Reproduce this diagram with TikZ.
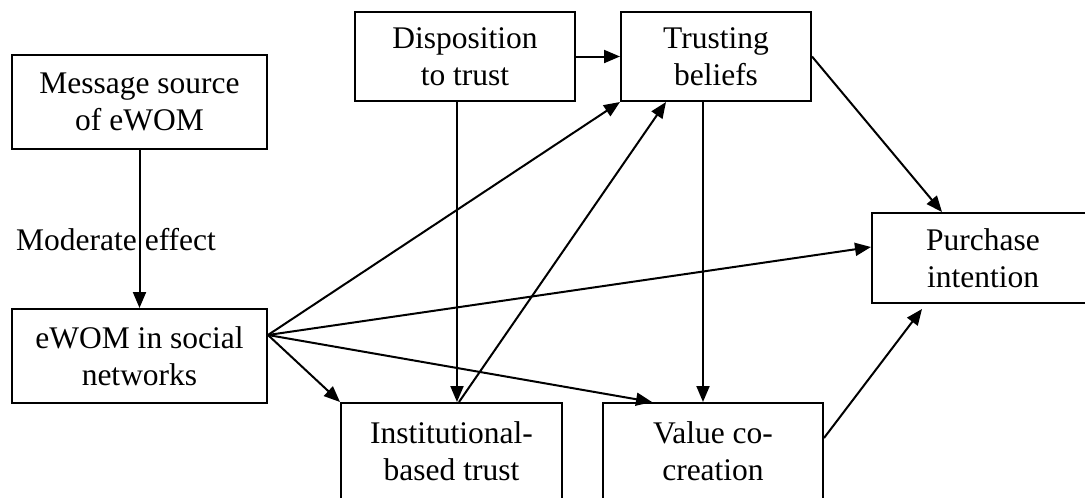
\documentclass[tikz,border=0pt]{standalone}
\usepackage{fontspec}
\setmainfont{Liberation Serif}
\usetikzlibrary{arrows.meta}

\begin{document}
\begin{tikzpicture}[
  x=1pt, y=-1pt,
  every node/.style={font=\fontsize{31.5}{37}\selectfont},
  box/.style={draw, line width=2pt, rectangle, inner sep=0pt, align=center},
  link/.style={line width=2pt, -{Triangle[length=16pt,width=13pt]}},
]
\useasboundingbox (0,0) rectangle (1085,498);
\clip (0,0) rectangle (1085,498);

% boxes
\node[box, minimum width=255pt, minimum height=94pt] (msg)   at (139.5,102)  {Message source\\of eWOM};
\node[box, minimum width=255pt, minimum height=94pt] (ewom)  at (139.5,356)  {eWOM in social\\networks};
\node[box, minimum width=220pt, minimum height=89pt] (disp)  at (465,56.5)   {Disposition\\to trust};
\node[box, minimum width=190pt, minimum height=89pt] (trust) at (716,56.5)   {Trusting\\beliefs};
\node[box, minimum width=222pt, minimum height=90pt] (purch) at (983,258)    {Purchase\\intention};
\node[box, minimum width=221pt, minimum height=97pt] (inst)  at (451.5,451.5) {Institutional-\\based trust};
\node[box, minimum width=220pt, minimum height=97pt] (value) at (713,451.5)  {Value co-\\creation};

% label of the moderating path
\node[anchor=base west, inner sep=0pt] (mod) at (16,250) {Moderate effect};

% common start point on the right side of the eWOM box
\coordinate (src) at ([yshift=21pt]ewom.east);

% connectors
\draw[link] (msg.south) -- (ewom.north);
\draw[link] (disp.east) -- (trust.west);
\draw[link] ([xshift=-8pt]disp.south) -- ([xshift=-8pt]disp.south |- inst.north);
\draw[link] ([xshift=-13pt]trust.south) -- ([xshift=-13pt]trust.south |- value.north);
\draw[link] (src) -- (inst.north west);
\draw[link] (src) -- (trust.south west);
\draw[link] (src) -- ([xshift=-61pt]value.north);
\draw[link] (src) -- ([yshift=11pt]purch.west);
\draw[link] ([xshift=7.5pt]inst.north) -- ([xshift=-50pt]trust.south);
\draw[link] (trust.east) -- ([xshift=-41pt]purch.north);
\draw[link] ([yshift=13.5pt]value.east) -- ([xshift=-61pt,yshift=-5pt]purch.south);
\end{tikzpicture}
\end{document}
